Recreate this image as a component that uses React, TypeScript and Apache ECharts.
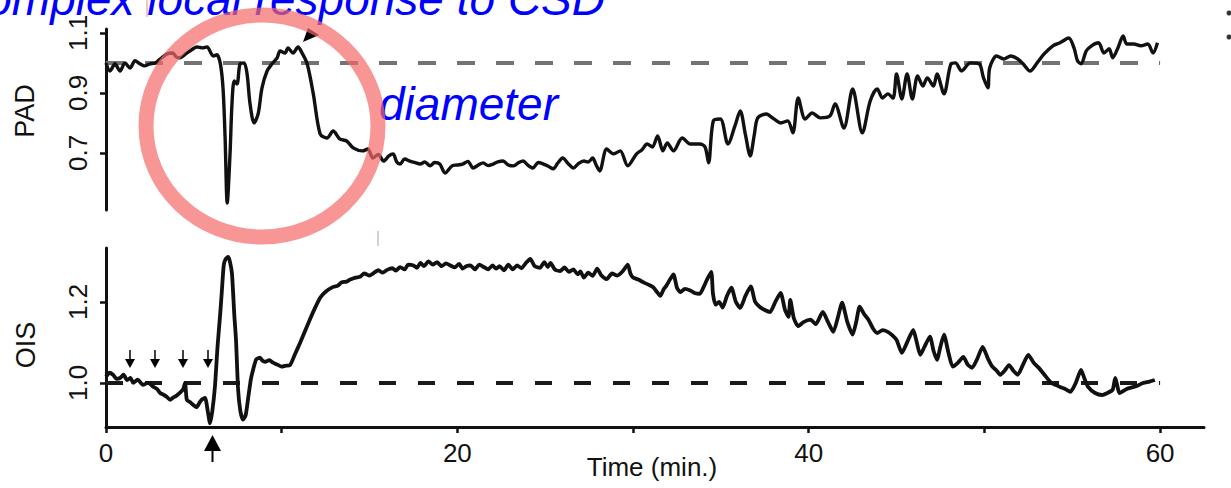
import React, { useEffect, useRef } from "react";
import * as echarts from "echarts";

// ---- Data (time in minutes) ----
const padTime = [
  0, 0.23, 0.51, 0.8, 1.08, 1.37, 1.65, 1.94, 2.2, 2.5, 2.8, 3.08, 3.47, 3.8, 4.0, 4.2, 4.6, 4.9, 5.18, 5.5,
  5.75, 6.0, 6.1, 6.3, 6.5, 6.66, 6.78, 6.9, 7.06, 7.17, 7.3, 7.46, 7.63, 7.86, 8.03, 8.2, 8.43, 8.66, 8.88, 9.17,
  9.45, 9.74, 9.91, 10.19, 10.36, 10.65, 10.93, 11.16, 11.45, 11.8, 12.19, 12.58, 12.93, 13.3, 13.7, 14.07, 14.6, 14.9, 15.2, 15.5,
  15.8, 16.1, 16.34, 16.55, 16.74, 17.0, 17.3, 17.6, 17.88, 18.15, 18.45, 18.7, 19.0, 19.3, 19.7, 20.0, 20.3, 20.6, 20.9, 21.2,
  21.47, 21.75, 22.04, 22.3, 22.6, 22.9, 23.2, 23.5, 23.75, 24.0, 24.3, 24.6, 24.9, 25.2, 25.46, 25.7, 26.0, 26.3, 26.6, 26.9,
  27.2, 27.45, 27.7, 27.9, 28.1, 28.5, 28.9, 29.27, 29.7, 30.2, 30.5, 30.8, 31.1, 31.4, 31.7, 31.95, 32.3, 32.8, 33.26, 33.8,
  34.1, 34.3, 34.57, 34.97, 35.4, 35.8, 36.1, 36.4, 36.67, 36.9, 37.1, 37.6, 37.8, 38.1, 38.4, 38.8, 39.1, 39.4, 39.8, 40.2,
  40.66, 41.2, 41.5, 42.0, 42.5, 43.05, 43.5, 43.9, 44.2, 44.5, 44.8, 45.0, 45.3, 45.6, 45.9, 46.2, 46.5, 46.75, 47.1, 47.3,
  47.7, 48.1, 48.35, 48.7, 49.2, 49.7, 49.95, 50.2, 50.3, 50.7, 51.1, 51.5, 51.9, 52.2, 52.6, 53.0, 53.4, 53.9, 54.3, 54.8,
  55.1, 55.3, 55.5, 55.8, 56.1, 56.5, 56.8, 57.1, 57.3, 57.6, 57.9, 58.1, 58.5, 58.9, 59.3, 59.6, 59.85,
];
const padValue = [
  1.0, 0.973, 0.997, 0.973, 1.0, 0.983, 1.007, 0.997, 0.99, 0.997, 1.0, 1.013, 1.03, 1.033, 1.02, 1.017, 1.033, 1.045, 1.053, 1.05,
  1.053, 1.03, 1.023, 1.027, 1.0, 0.917, 0.75, 0.533, 0.697, 0.863, 0.94, 0.93, 0.997, 1.0, 0.963, 0.863, 0.8, 0.83, 0.917, 0.973,
  0.997, 1.017, 1.04, 1.033, 1.05, 1.033, 1.053, 1.033, 0.997, 0.897, 0.763, 0.75, 0.773, 0.747, 0.74, 0.717, 0.707, 0.713, 0.683, 0.695,
  0.673, 0.69, 0.697, 0.67, 0.663, 0.68, 0.673, 0.668, 0.663, 0.67, 0.657, 0.668, 0.663, 0.633, 0.657, 0.66, 0.663, 0.672, 0.65, 0.66,
  0.667, 0.658, 0.663, 0.67, 0.673, 0.66, 0.657, 0.668, 0.673, 0.66, 0.65, 0.668, 0.663, 0.655, 0.647, 0.665, 0.683, 0.665, 0.65, 0.665,
  0.673, 0.67, 0.683, 0.66, 0.64, 0.713, 0.697, 0.707, 0.657, 0.697, 0.71, 0.73, 0.72, 0.757, 0.707, 0.733, 0.707, 0.75, 0.73, 0.73,
  0.72, 0.667, 0.807, 0.813, 0.73, 0.79, 0.84, 0.76, 0.69, 0.76, 0.817, 0.83, 0.823, 0.81, 0.8, 0.807, 0.767, 0.883, 0.813, 0.833,
  0.817, 0.823, 0.863, 0.783, 0.913, 0.767, 0.873, 0.913, 0.883, 0.897, 0.883, 0.963, 0.88, 0.963, 0.88, 0.957, 0.923, 0.95, 0.923, 0.963,
  0.897, 0.997, 1.0, 0.973, 1.0, 0.997, 0.95, 0.917, 0.983, 1.023, 1.013, 1.023, 1.013, 0.997, 0.973, 1.0, 1.03, 1.057, 1.067, 1.083,
  1.05, 1.007, 0.997, 1.04, 1.057, 1.067, 1.033, 1.047, 1.017, 1.05, 1.09, 1.063, 1.063, 1.057, 1.063, 1.033, 1.067,
];

const oisTime = [
  0, 0.2, 0.4, 0.6, 0.8, 1.0, 1.2, 1.4, 1.55, 1.8, 2.1, 2.4, 2.7, 2.9, 3.08, 3.3, 3.47, 3.65, 3.8, 4.0,
  4.2, 4.4, 4.5, 4.6, 4.8, 4.95, 5.15, 5.35, 5.5, 5.64, 5.8, 5.92, 6.05, 6.2, 6.35, 6.5, 6.6, 6.7, 6.8, 6.95,
  7.05, 7.17, 7.3, 7.4, 7.52, 7.65, 7.8, 7.95, 8.1, 8.25, 8.37, 8.55, 8.77, 8.9, 9.05, 9.3, 9.5, 9.75, 10.0, 10.2,
  10.48, 10.75, 11.05, 11.3, 11.6, 11.9, 12.19, 12.5, 12.93, 13.2, 13.4, 13.7, 13.9, 14.2, 14.46, 14.7, 15.0, 15.2, 15.5, 15.75,
  16.0, 16.3, 16.5, 16.74, 17.0, 17.2, 17.5, 17.7, 17.9, 18.1, 18.35, 18.6, 18.85, 19.1, 19.35, 19.6, 19.85, 20.1, 20.3, 20.5,
  20.75, 21.0, 21.25, 21.5, 21.75, 22.0, 22.2, 22.4, 22.65, 22.9, 23.15, 23.4, 23.65, 23.9, 24.15, 24.4, 24.7, 24.95, 25.15, 25.3,
  25.55, 25.85, 26.1, 26.35, 26.6, 26.85, 27.0, 27.2, 27.45, 27.7, 27.96, 28.2, 28.5, 28.8, 29.1, 29.4, 29.7, 29.85, 30.0, 30.3,
  30.6, 30.9, 31.15, 31.35, 31.55, 31.75, 31.9, 32.1, 32.3, 32.5, 32.7, 32.95, 33.26, 33.5, 33.8, 34.0, 34.2, 34.45, 34.55, 34.7,
  34.9, 35.1, 35.35, 35.6, 35.85, 36.1, 36.4, 36.7, 36.95, 37.2, 37.5, 37.8, 38.1, 38.4, 38.65, 38.85, 38.95, 39.15, 39.4, 39.7,
  40.1, 40.4, 40.8, 41.1, 41.4, 41.65, 41.9, 42.2, 42.5, 42.7, 42.9, 43.15, 43.4, 43.65, 43.9, 44.2, 44.5, 44.75, 45.0, 45.3,
  45.6, 45.95, 46.15, 46.35, 46.6, 46.9, 47.1, 47.3, 47.5, 47.7, 47.95, 48.2, 48.5, 48.8, 49.05, 49.3, 49.6, 49.9, 50.2, 50.45,
  50.7, 50.9, 51.15, 51.4, 51.65, 51.9, 52.2, 52.5, 52.8, 53.1, 53.45, 53.8, 54.05, 54.3, 54.6, 54.9, 55.2, 55.5, 55.7, 55.9,
  56.3, 56.7, 57.0, 57.3, 57.45, 57.7, 58.1, 58.5, 58.8, 59.05, 59.4, 59.7,
];
const oisValue = [
  1.015, 1.025, 1.02, 1.01, 1.012, 1.02, 1.007, 1.012, 1.0, 1.008, 0.995, 1.0, 0.99, 0.985, 0.975, 0.97, 0.965, 0.958, 0.963, 0.968,
  0.975, 0.985, 1.0, 0.958, 0.952, 0.946, 0.94, 0.953, 0.96, 0.963, 0.928, 0.9, 0.93, 0.99, 1.09, 1.17, 1.23, 1.29, 1.305, 1.311,
  1.3, 1.27, 1.17, 1.106, 0.983, 0.93, 0.909, 0.92, 0.965, 1.01, 1.032, 1.058, 1.062, 1.055, 1.052, 1.056, 1.05, 1.045, 1.04, 1.042,
  1.044, 1.07, 1.099, 1.125, 1.156, 1.185, 1.21, 1.225, 1.237, 1.24, 1.248, 1.25, 1.255, 1.26, 1.262, 1.27, 1.265, 1.27, 1.278, 1.272,
  1.279, 1.283, 1.277, 1.286, 1.28, 1.292, 1.29, 1.284, 1.296, 1.288, 1.3, 1.292, 1.298, 1.288, 1.295, 1.29, 1.285, 1.294, 1.282, 1.288,
  1.29, 1.28, 1.292, 1.286, 1.28, 1.29, 1.282, 1.288, 1.278, 1.292, 1.28, 1.29, 1.283, 1.296, 1.306, 1.288, 1.284, 1.298, 1.286, 1.296,
  1.28, 1.276, 1.285, 1.274, 1.28, 1.268, 1.275, 1.26, 1.272, 1.264, 1.282, 1.265, 1.256, 1.27, 1.265, 1.275, 1.292, 1.27, 1.26, 1.255,
  1.248, 1.242, 1.236, 1.225, 1.215, 1.232, 1.24, 1.255, 1.268, 1.235, 1.224, 1.232, 1.228, 1.222, 1.22, 1.235, 1.254, 1.274, 1.22, 1.193,
  1.2, 1.186, 1.215, 1.235, 1.2, 1.185, 1.215, 1.238, 1.2, 1.188, 1.18, 1.175, 1.2, 1.222, 1.18, 1.163, 1.205, 1.16, 1.14, 1.15,
  1.156, 1.145, 1.175, 1.15, 1.126, 1.16, 1.198, 1.15, 1.119, 1.15, 1.188, 1.17, 1.156, 1.135, 1.123, 1.13, 1.126, 1.118, 1.106, 1.074,
  1.1, 1.131, 1.1, 1.069, 1.09, 1.114, 1.08, 1.057, 1.09, 1.119, 1.075, 1.04, 1.05, 1.064, 1.045, 1.037, 1.06, 1.089, 1.06, 1.04,
  1.03, 1.02, 1.03, 1.044, 1.03, 1.02, 1.045, 1.069, 1.05, 1.037, 1.018, 1.0, 0.995, 0.99, 0.985, 0.978, 1.0, 1.032, 1.01, 0.99,
  0.975, 0.97, 0.975, 0.983, 1.012, 0.975, 0.985, 0.99, 0.995, 1.0, 1.003, 1.007,
];

const xTicks = [0, 10, 20, 30, 40, 50, 60];
const xLabels = [0, 20, 40, 60];
const padTicks = [0.7, 0.9, 1.1];
const oisTicks = [1.0, 1.2];
const baseline = 1.0;
const stimArrowX = [130, 155, 183, 208];

const FONT = '"Liberation Sans", Arial, Helvetica, sans-serif';
const INK = "#111111";

export default function App() {
  const ref = useRef<HTMLDivElement>(null);

  useEffect(() => {
    if (!ref.current) return;
    const chart = echarts.init(ref.current, null, { renderer: "svg" });

    const padData = padTime.map((t, i) => [t, padValue[i]]);
    const oisData = oisTime.map((t, i) => [t, oisValue[i]]);

    const axisLineStyle = { color: INK, width: 3 };
    const tickStyle = { color: INK, width: 2.5 };

    const graphic: any[] = [
      {
        type: "text",
        x: 605,
        y: -1,
        z: 50,
        style: {
          text: "Complex local response to CSD",
          font: `italic 46px ${FONT}`,
          fill: "#0000ff",
          align: "right",
          textAlign: "right",
          verticalAlign: "middle",
          textVerticalAlign: "middle",
        },
      },
      {
        type: "text",
        x: 379,
        y: 104,
        z: 50,
        style: {
          text: "diameter",
          font: `italic 46px ${FONT}`,
          fill: "#0000ff",
          align: "left",
          textAlign: "left",
          verticalAlign: "middle",
          textVerticalAlign: "middle",
        },
      },
      {
        type: "text",
        x: 25,
        y: 111,
        rotation: Math.PI / 2,
        style: {
          text: "PAD",
          font: `27px ${FONT}`,
          fill: INK,
          align: "center",
          textAlign: "center",
          verticalAlign: "middle",
          textVerticalAlign: "middle",
        },
      },
      {
        type: "text",
        x: 26,
        y: 345,
        rotation: Math.PI / 2,
        style: {
          text: "OIS",
          font: `27px ${FONT}`,
          fill: INK,
          align: "center",
          textAlign: "center",
          verticalAlign: "middle",
          textVerticalAlign: "middle",
        },
      },
      {
        type: "text",
        x: 652,
        y: 467,
        style: {
          text: "Time (min.)",
          font: `26px ${FONT}`,
          fill: INK,
          align: "center",
          textAlign: "center",
          verticalAlign: "middle",
          textVerticalAlign: "middle",
        },
      },
      // arrowhead pointing at PAD peak
      {
        type: "polygon",
        z: 60,
        shape: { points: [[303, 42], [308, 28], [319, 35]] },
        style: { fill: "#000" },
      },
      // big arrow under the x axis
      {
        type: "polygon",
        z: 60,
        shape: { points: [[204, 451], [221, 451], [212.5, 435]] },
        style: { fill: "#000" },
      },
      {
        type: "line",
        z: 60,
        shape: { x1: 212.5, y1: 448, x2: 212.5, y2: 462 },
        style: { stroke: "#000", lineWidth: 2 },
      },
      // thin artefact lines
      {
        type: "line",
        z: 40,
        shape: { x1: 147, y1: 0, x2: 147, y2: 17 },
        style: { stroke: "rgba(235,150,150,0.9)", lineWidth: 1.2 },
      },
      {
        type: "line",
        z: 40,
        shape: { x1: 378, y1: 231, x2: 378, y2: 246 },
        style: { stroke: "rgba(200,160,160,0.9)", lineWidth: 1.2 },
      },
      // fragments at right edge
      { type: "circle", shape: { cx: 1229, cy: 13, r: 2.5 }, style: { fill: "#333" } },
      { type: "circle", shape: { cx: 1229, cy: 37, r: 2.5 }, style: { fill: "#333" } },
      // highlight ring
      {
        type: "ellipse",
        z: 100,
        shape: { cx: 262, cy: 126, rx: 116, ry: 111 },
        style: { fill: "none", stroke: "rgba(245,105,105,0.7)", lineWidth: 15 },
      },
    ];

    stimArrowX.forEach((x) => {
      graphic.push({
        type: "line",
        z: 60,
        shape: { x1: x, y1: 350, x2: x, y2: 361 },
        style: { stroke: "#000", lineWidth: 1.5 },
      });
      graphic.push({
        type: "polygon",
        z: 60,
        shape: { points: [[x - 5, 359], [x + 5, 359], [x, 368]] },
        style: { fill: "#000" },
      });
    });

    const labelBase = { fontSize: 26, fontFamily: FONT, color: INK };

    const option: any = {
      animation: false,
      backgroundColor: "#ffffff",
      grid: [
        { left: 106, top: 29, width: 1098, height: 181 },
        { left: 106, top: 248, width: 1098, height: 179 },
      ],
      xAxis: [
        { gridIndex: 0, type: "value", min: 0, max: 62.5, show: false },
        {
          gridIndex: 1,
          type: "value",
          min: 0,
          max: 62.5,
          interval: 10,
          axisLine: { show: true, onZero: false, lineStyle: axisLineStyle },
          axisTick: { show: true, length: 6, lineStyle: tickStyle, customValues: xTicks },
          axisLabel: {
            ...labelBase,
            customValues: xLabels,
            margin: 13,
            formatter: (v: number) => String(v),
          },
          splitLine: { show: false },
        },
      ],
      yAxis: [
        {
          gridIndex: 0,
          type: "value",
          min: 0.51,
          max: 1.113,
          axisLine: { show: true, onZero: false, lineStyle: axisLineStyle },
          axisTick: { show: true, length: 6, lineStyle: tickStyle, customValues: padTicks },
          axisLabel: {
            ...labelBase,
            customValues: padTicks,
            rotate: 90,
            margin: 15,
            formatter: (v: number) => v.toFixed(1),
          },
          splitLine: { show: false },
        },
        {
          gridIndex: 1,
          type: "value",
          min: 0.891,
          max: 1.333,
          axisLine: { show: true, onZero: false, lineStyle: axisLineStyle },
          axisTick: { show: true, length: 6, lineStyle: tickStyle, customValues: oisTicks },
          axisLabel: {
            ...labelBase,
            customValues: oisTicks,
            rotate: 90,
            margin: 15,
            formatter: (v: number) => v.toFixed(1),
          },
          splitLine: { show: false },
        },
      ],
      series: [
        {
          type: "line",
          name: "PAD",
          xAxisIndex: 0,
          yAxisIndex: 0,
          data: padData,
          showSymbol: false,
          smooth: 0.3,
          lineStyle: { color: "#111", width: 3.4 },
          z: 5,
          markLine: {
            silent: true,
            symbol: "none",
            label: { show: false },
            lineStyle: { color: "#737373", width: 4, type: [18, 21] },
            data: [[{ coord: [0, baseline] }, { coord: [60, baseline] }]],
            z: 2,
          },
        },
        {
          type: "line",
          name: "OIS",
          xAxisIndex: 1,
          yAxisIndex: 1,
          data: oisData,
          showSymbol: false,
          smooth: 0.2,
          lineStyle: { color: "#111", width: 3.8 },
          z: 5,
          markLine: {
            silent: true,
            symbol: "none",
            label: { show: false },
            lineStyle: { color: "#1a1a1a", width: 4, type: [17, 22] },
            data: [[{ coord: [0, baseline] }, { coord: [60, baseline] }]],
            z: 2,
          },
        },
      ],
      graphic,
    };

    chart.setOption(option);
    return () => chart.dispose();
  }, []);

  return (
    <div
      ref={ref}
      style={{ position: "fixed", left: 0, top: 0, width: 1231, height: 488, background: "#fff" }}
    />
  );
}
